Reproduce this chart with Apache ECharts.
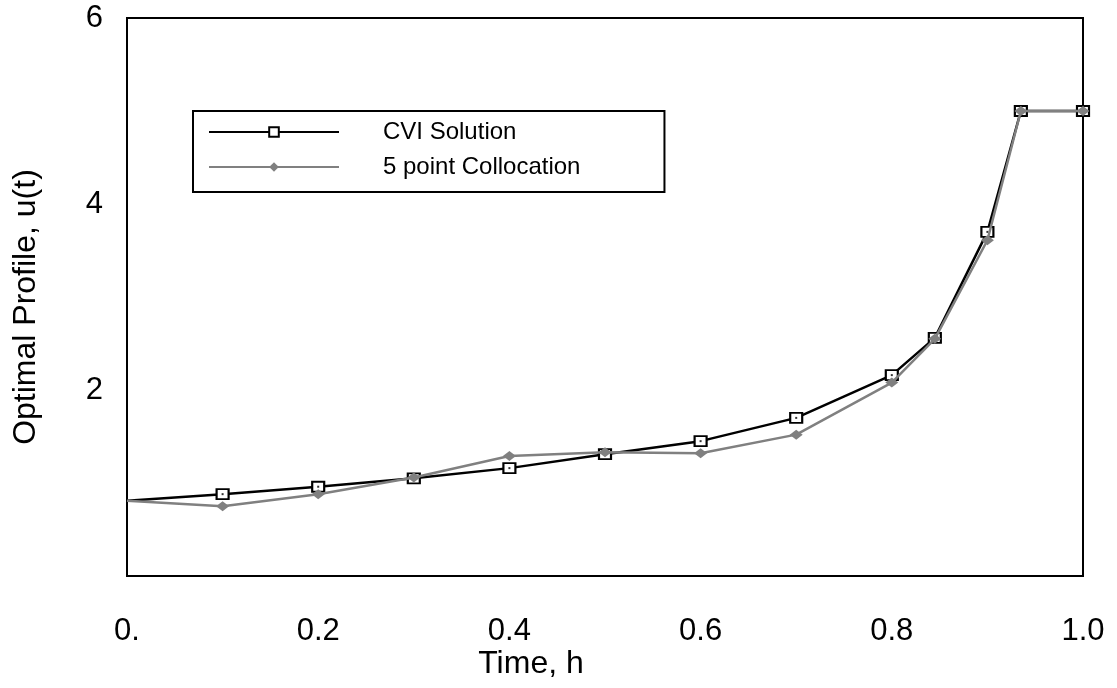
<!DOCTYPE html>
<html>
<head>
<meta charset="utf-8">
<script src="https://cdn.jsdelivr.net/npm/echarts@6/dist/echarts.min.js"></script>
<style>
html,body{margin:0;padding:0;background:#fff;}
#chart{width:1117px;height:688px;}
</style>
</head>
<body>
<div id="chart"></div>
<script>
// Data
const timeValues = [0, 0.1, 0.2, 0.3, 0.4, 0.5, 0.6, 0.7, 0.8, 0.845, 0.9, 0.935, 1.0];
const cviValues = [0.81, 0.88, 0.96, 1.05, 1.16, 1.31, 1.45, 1.70, 2.16, 2.56, 3.70, 5.0, 5.0];
const collocationValues = [0.81, 0.75, 0.88, 1.06, 1.29, 1.33, 1.32, 1.52, 2.08, 2.55, 3.61, 5.0, 5.0];
const xTickLabels = ["0.", "0.2", "0.4", "0.6", "0.8", "1.0"];
const yTickLabels = ["", "2", "4", "6"];
const seriesNames = ["CVI Solution", "5 point Collocation"];
const xTitle = "Time, h";
const yTitle = "Optimal Profile, u(t)";

// first point sits on the axis without a marker
const pair = (xs, ys) => xs.map((x, i) => i === 0 ? {value: [x, ys[i]], symbol: 'none'} : [x, ys[i]]);
const FONT = "Liberation Sans, Arial, sans-serif";

const chart = echarts.init(document.getElementById('chart'), null, {renderer: 'canvas'});
chart.setOption({
  animation: false,
  backgroundColor: '#fff',
  grid: {
    left: 127, right: 34, top: 18, bottom: 112,
    show: true, borderColor: '#000', borderWidth: 2, backgroundColor: 'transparent'
  },
  xAxis: {
    type: 'value', min: 0, max: 1, interval: 0.2,
    axisLine: {show: true, onZero: false, lineStyle: {color: '#000', width: 2}},
    axisTick: {show: false},
    splitLine: {show: false},
    axisLabel: {
      margin: 40, color: '#000', fontFamily: FONT, fontSize: 31,
      formatter: (v) => xTickLabels[Math.round(v / 0.2)]
    }
  },
  yAxis: {
    type: 'value', min: 0, max: 6, interval: 2,
    axisLine: {show: true, onZero: false, lineStyle: {color: '#000', width: 2}},
    axisTick: {show: false},
    splitLine: {show: false},
    axisLabel: {
      margin: 24, color: '#000', fontFamily: FONT, fontSize: 31,
      formatter: (v) => yTickLabels[Math.round(v / 2)]
    }
  },
  legend: {
    data: seriesNames,
    orient: 'vertical',
    left: 193, top: 111,
    padding: [9, 84, 13, 15],
    borderColor: '#000', borderWidth: 2,
    itemWidth: 130, itemHeight: 12, itemGap: 11,
    textStyle: {color: '#000', fontFamily: FONT, fontSize: 24, lineHeight: 24, padding: [0, 0, 0, 39]}
  },
  graphic: [
    {type: 'text', x: 531, y: 664,
     style: {text: xTitle, font: '32px ' + FONT, fill: '#000', align: 'center', verticalAlign: 'middle'}},
    {type: 'text', x: 26, y: 307, rotation: Math.PI / 2,
     style: {text: yTitle, font: '32px ' + FONT, fill: '#000', align: 'center', verticalAlign: 'middle'}}
  ],
  series: [
    {
      name: seriesNames[0], type: 'line', data: pair(timeValues, cviValues),
      symbol: 'rect', symbolSize: [12, 10], showAllSymbol: true,
      lineStyle: {color: '#000', width: 2.5},
      itemStyle: {color: '#fff', borderColor: '#000', borderWidth: 2},
      z: 2
    },
    {
      name: 'cvi-dot', type: 'scatter', data: pair(timeValues, cviValues),
      symbol: 'rect', symbolSize: 2, itemStyle: {color: '#000'}, silent: true, z: 3
    },
    {
      name: seriesNames[1], type: 'line', data: pair(timeValues, collocationValues),
      symbol: 'diamond', symbolSize: [13, 10], showAllSymbol: true,
      lineStyle: {color: '#808080', width: 2.5},
      itemStyle: {color: '#808080', borderWidth: 0},
      z: 4
    }
  ]
});
</script>
</body>
</html>
